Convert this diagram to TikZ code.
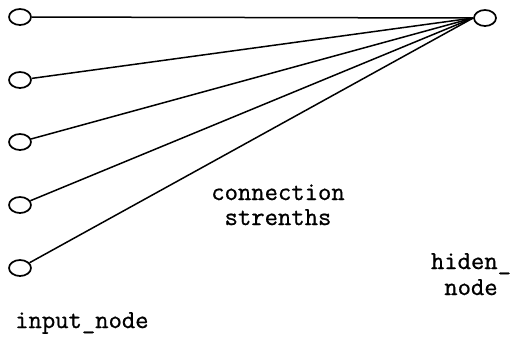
\documentclass[tikz,border=0pt]{standalone}
\usepackage{fontspec}
\newfontfamily\cour{Latin Modern Mono}[FakeBold=0.8]
\usetikzlibrary{shapes.geometric}
\begin{document}
\begin{tikzpicture}[x=1bp,y=-1bp,
  unit/.style={draw,ellipse,line width=1.7bp,minimum width=22bp,minimum height=16bp,inner sep=0pt},
  conn/.style={line width=1.5bp},
  lbl/.style={font=\cour\fontsize{26}{26}\selectfont,inner sep=0pt,align=center}]
\useasboundingbox (0,0) rectangle (532,340);
\node[unit] (i1) at (20,17) {};
\node[unit] (i2) at (20,80) {};
\node[unit] (i3) at (20,142) {};
\node[unit] (i4) at (20,205) {};
\node[unit] (i5) at (20,268) {};
\node[unit] (h) at (485,18) {};
\foreach \n in {i1,i2,i3,i4,i5} \draw[conn] (\n) -- (h.west);
\node[lbl,anchor=base west] (lin) at (15,328) {input\_node};
\node[lbl,anchor=base] (lc) at (278,200) {connection};
\node[lbl,anchor=base] (ls) at (278,225) {strenths};
\node[lbl,anchor=base] (lh) at (471,269) {hiden\_};
\node[lbl,anchor=base] (ln) at (471,295) {node};
\end{tikzpicture}
\end{document}
